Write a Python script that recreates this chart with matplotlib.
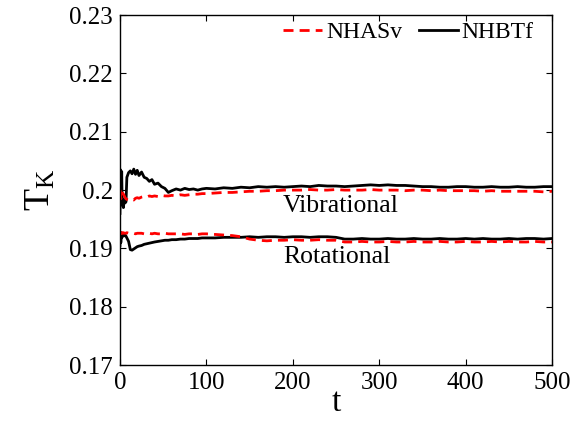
import matplotlib
matplotlib.use("Agg")
import matplotlib.pyplot as plt

plt.rcParams['font.family'] = ['Liberation Serif', 'DejaVu Serif']
plt.rcParams['mathtext.fontset'] = 'custom'
plt.rcParams['mathtext.rm'] = 'Liberation Serif'
plt.rcParams['mathtext.it'] = 'Liberation Serif:italic'

t = [0, 0.5, 1, 1.5, 2, 2.5, 3, 4, 5, 6, 7, 8, 10, 12, 14, 16, 18, 20, 22, 25, 28,
     31, 34, 37, 40, 44, 48, 52, 56, 60, 65, 70, 75, 80, 85, 90, 95, 100,
     110, 120, 130, 140, 150, 160, 170, 180, 190, 200, 210, 220, 230, 240, 250,
     260, 270, 280, 290, 300, 310, 320, 330, 340, 350, 360, 370, 380, 390, 400,
     410, 420, 430, 440, 450, 460, 470, 480, 490, 500]

vib_nhbtf = [0.1960, 0.2035, 0.1990, 0.1975, 0.2032, 0.1985, 0.1975, 0.1970, 0.1985, 0.1978,
             0.1980, 0.2022, 0.2030, 0.2033, 0.2028, 0.2036, 0.2027, 0.2034, 0.2025, 0.2031,
             0.2022, 0.2020, 0.2015, 0.2018, 0.2010, 0.2012, 0.2006, 0.2003, 0.1996, 0.1999,
             0.2002, 0.2000, 0.2003, 0.2001, 0.2002, 0.2000, 0.2002, 0.2003,
             0.2002, 0.2004, 0.2003, 0.2005, 0.2004, 0.2006, 0.2005, 0.2006, 0.2005, 0.2006,
             0.2007, 0.2006, 0.2008, 0.2007, 0.2007, 0.2006, 0.2007, 0.2008, 0.2009, 0.2008,
             0.2009, 0.2008, 0.2008, 0.2007, 0.2006, 0.2006, 0.2005, 0.2005, 0.2006, 0.2006,
             0.2005, 0.2005, 0.2006, 0.2005, 0.2005, 0.2006, 0.2005, 0.2005, 0.2006, 0.2006]

vib_nhasv = [0.2000, 0.1998, 0.1985, 0.1990, 0.1994, 0.1992, 0.1995, 0.1993, 0.1990, 0.1987,
             0.1985, 0.1984, 0.1983, 0.1982, 0.1984, 0.1983, 0.1986, 0.1987, 0.1986, 0.1988,
             0.1989, 0.1988, 0.1990, 0.1989, 0.1990, 0.1989, 0.1991, 0.1990, 0.1990, 0.1991,
             0.1990, 0.1992, 0.1991, 0.1992, 0.1993, 0.1993, 0.1994, 0.1994,
             0.1995, 0.1996, 0.1996, 0.1997, 0.1998, 0.1998, 0.1999, 0.1999, 0.2000, 0.2000,
             0.2000, 0.2001, 0.2000, 0.2000, 0.2001, 0.2000, 0.2000, 0.2000, 0.2001, 0.2000,
             0.2000, 0.2000, 0.1999, 0.2000, 0.2000, 0.1999, 0.2000, 0.1999, 0.1999, 0.1999,
             0.1999, 0.1998, 0.1999, 0.1998, 0.1998, 0.1998, 0.1998, 0.1998, 0.1997, 0.1998]

rot_nhbtf = [0.1905, 0.1928, 0.1910, 0.1922, 0.1918, 0.1926, 0.1923, 0.1921, 0.1922, 0.1923,
             0.1921, 0.1918, 0.1912, 0.1898, 0.1897, 0.1899, 0.1901, 0.1903, 0.1904, 0.1905,
             0.1907, 0.1908, 0.1909, 0.1910, 0.1911, 0.1912, 0.1913, 0.1914, 0.1914, 0.1915,
             0.1915, 0.1916, 0.1916, 0.1917, 0.1917, 0.1917, 0.1918, 0.1918,
             0.1918, 0.1919, 0.1919, 0.1919, 0.1920, 0.1919, 0.1920, 0.1920, 0.1919, 0.1920,
             0.1920, 0.1919, 0.1920, 0.1920, 0.1919, 0.1916, 0.1916, 0.1917, 0.1916, 0.1916,
             0.1917, 0.1916, 0.1916, 0.1917, 0.1916, 0.1916, 0.1917, 0.1916, 0.1916, 0.1917,
             0.1916, 0.1917, 0.1916, 0.1916, 0.1917, 0.1916, 0.1917, 0.1917, 0.1916, 0.1917]

rot_nhasv = [0.1926, 0.1927, 0.1926, 0.1926, 0.1927, 0.1926, 0.1926, 0.1927, 0.1926, 0.1926,
             0.1926, 0.1927, 0.1926, 0.1926, 0.1926, 0.1926, 0.1925, 0.1926, 0.1926, 0.1926,
             0.1925, 0.1926, 0.1926, 0.1925, 0.1926, 0.1925, 0.1925, 0.1926, 0.1925, 0.1925,
             0.1925, 0.1925, 0.1924, 0.1925, 0.1925, 0.1924, 0.1925, 0.1925,
             0.1924, 0.1923, 0.1922, 0.1920, 0.1916, 0.1914, 0.1913, 0.1914, 0.1914, 0.1915,
             0.1914, 0.1914, 0.1915, 0.1914, 0.1914, 0.1911, 0.1911, 0.1912, 0.1911, 0.1911,
             0.1912, 0.1911, 0.1911, 0.1912, 0.1911, 0.1911, 0.1912, 0.1911, 0.1911, 0.1912,
             0.1911, 0.1911, 0.1912, 0.1911, 0.1912, 0.1911, 0.1911, 0.1912, 0.1911, 0.1911]

xticks = [0, 100, 200, 300, 400, 500]
yticks = [0.17, 0.18, 0.19, 0.2, 0.21, 0.22, 0.23]
ytick_labels = ['0.17', '0.18', '0.19', '0.2', '0.21', '0.22', '0.23']

fig = plt.figure(figsize=(5.88, 4.22), dpi=100)
ax = fig.add_axes([0.204, 0.135, 0.735, 0.829])

lb1, = ax.plot(t, vib_nhbtf, color='black', lw=2.0, label='NHBTf')
ax.plot(t, rot_nhbtf, color='black', lw=2.0)
lr1, = ax.plot(t, vib_nhasv, color='red', lw=2.0, ls=(0, (3.6, 2.2)), label='NHASv')
ax.plot(t, rot_nhasv, color='red', lw=2.0, ls=(0, (3.6, 2.2)))

ax.set_xlim(0, 500)
ax.set_ylim(0.17, 0.23)
ax.set_xticks(xticks)
ax.set_yticks(yticks)
ax.set_yticklabels(ytick_labels)
ax.tick_params(direction='in', length=4, width=0.8, top=True, right=True,
               labelsize=18, pad=5)
for s in ax.spines.values():
    s.set_linewidth(1.0)

ax.set_xlabel('t', fontsize=24, labelpad=-5)
ax.set_ylabel(r'$\mathregular{T_K}$', fontsize=26, labelpad=8)

ax.text(188.5, 0.19623, 'Vibrational', fontsize=18.5, va='baseline', ha='left')
ax.text(188.5, 0.18748, 'Rotational', fontsize=18.5, va='baseline', ha='left')

ax.legend(handles=[lr1, lb1], loc='center right', bbox_to_anchor=(0.956, 0.951),
          ncol=2, frameon=False, fontsize=17, handlelength=1.65, handletextpad=0.15,
          columnspacing=0.7, borderaxespad=0, borderpad=0)

fig.savefig('out.png', dpi=100)
